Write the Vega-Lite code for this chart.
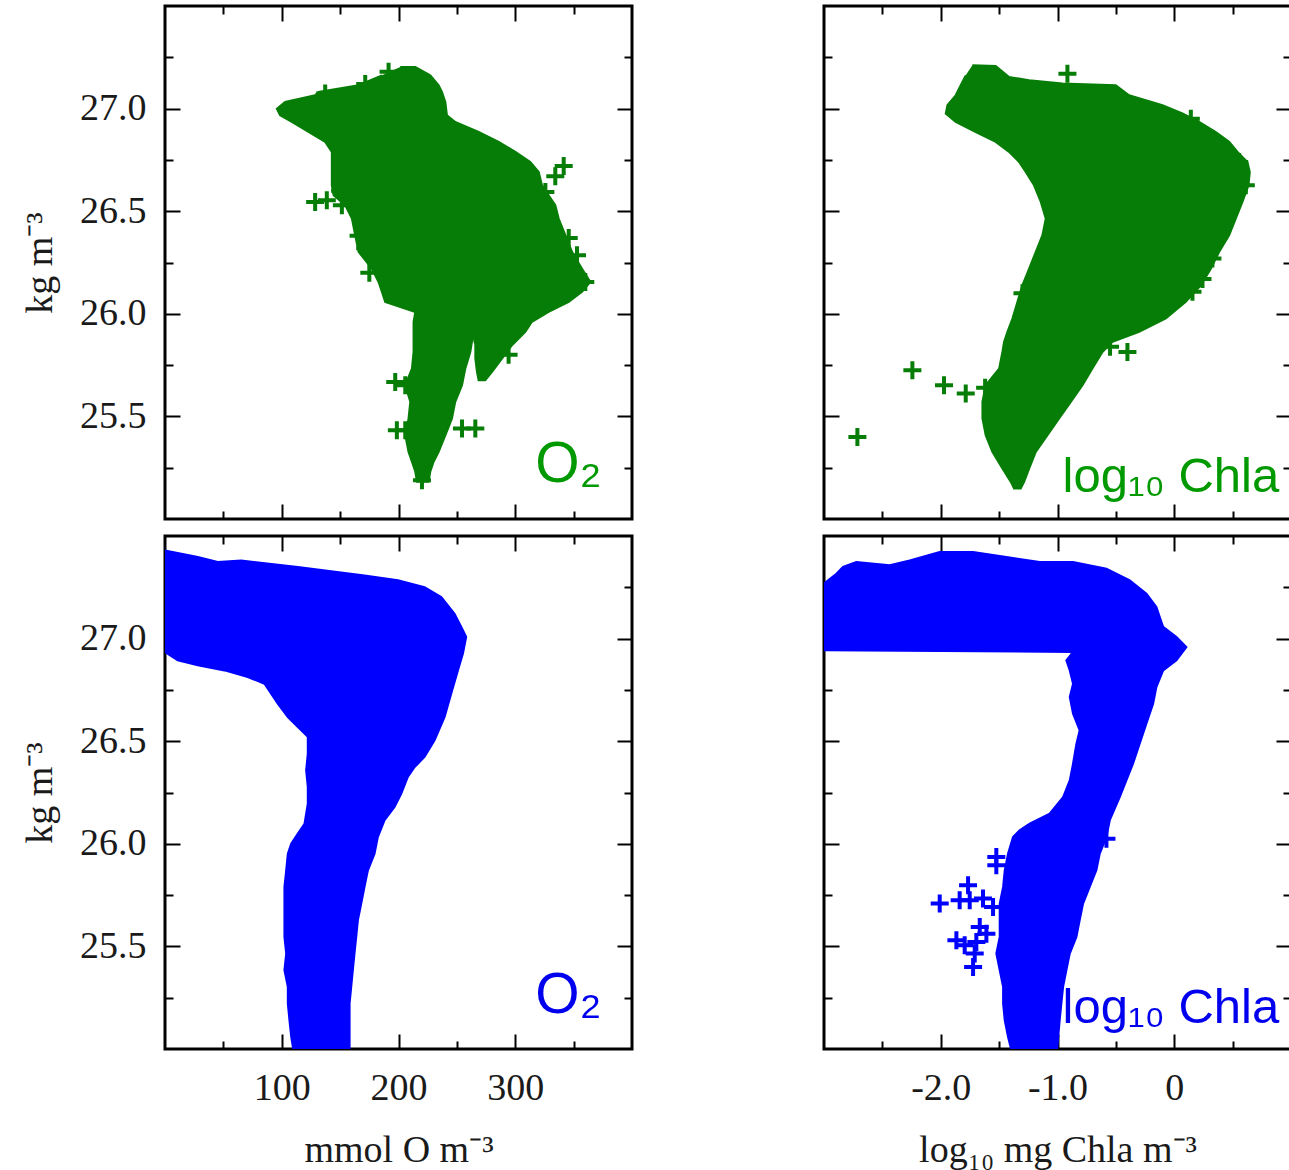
{
  "$schema": "https://vega.github.io/schema/vega-lite/v6.json",
  "background": "white",
  "padding": {"left": 20, "top": 3, "right": 0, "bottom": 0},
  "columns": 2,
  "spacing": {"row": 17, "column": 192},
  "bounds": "flush",
  "config": {
    "view": {"stroke": "#000000", "strokeWidth": 3},
    "axis": {
      "domain": false, "grid": false, "tickColor": "#000000", "tickWidth": 2,
      "labelFont": "Liberation Serif", "labelFontSize": 38, "labelColor": "#1a1a1a",
      "titleFont": "Liberation Serif", "titleFontSize": 38, "titleFontWeight": "normal", "titleColor": "#1a1a1a",
      "labelOverlap": false, "labelFlush": false, "labelBound": false
    }
  },
  "datasets": {
    "tl_poly": [
      {"i":1,"o2":201.5,"sigma":27.203},{"i":2,"o2":214.4,"sigma":27.203},{"i":3,"o2":227.2,"sigma":27.162},{"i":4,"o2":234.4,"sigma":27.114},
      {"i":5,"o2":237.2,"sigma":27.081},{"i":6,"o2":240.1,"sigma":27.032},{"i":7,"o2":241.5,"sigma":26.967},{"i":8,"o2":248.6,"sigma":26.935},
      {"i":9,"o2":268.6,"sigma":26.886},{"i":10,"o2":285.8,"sigma":26.838},{"i":11,"o2":300.1,"sigma":26.789},{"i":12,"o2":312.9,"sigma":26.74},
      {"i":13,"o2":320.1,"sigma":26.691},{"i":14,"o2":322.9,"sigma":26.626},{"i":15,"o2":328.6,"sigma":26.578},{"i":16,"o2":334.3,"sigma":26.529},
      {"i":17,"o2":337.2,"sigma":26.464},{"i":18,"o2":342.9,"sigma":26.383},{"i":19,"o2":348.6,"sigma":26.302},{"i":20,"o2":357.2,"sigma":26.22},
      {"i":21,"o2":364.3,"sigma":26.155},{"i":22,"o2":357.2,"sigma":26.107},{"i":23,"o2":345.8,"sigma":26.058},{"i":24,"o2":328.6,"sigma":26.009},
      {"i":25,"o2":314.3,"sigma":25.961},{"i":26,"o2":308.6,"sigma":25.912},{"i":27,"o2":297.2,"sigma":25.847},{"i":28,"o2":288.6,"sigma":25.782},
      {"i":29,"o2":280.1,"sigma":25.717},{"i":30,"o2":274.3,"sigma":25.676},{"i":31,"o2":268.6,"sigma":25.676},{"i":32,"o2":267.2,"sigma":25.717},
      {"i":33,"o2":265.8,"sigma":25.782},{"i":34,"o2":265.8,"sigma":25.847},{"i":35,"o2":264.4,"sigma":25.904},{"i":36,"o2":262.9,"sigma":25.863},
      {"i":37,"o2":261.5,"sigma":25.814},{"i":38,"o2":257.2,"sigma":25.733},{"i":39,"o2":254.4,"sigma":25.652},{"i":40,"o2":248.6,"sigma":25.571},
      {"i":41,"o2":245.8,"sigma":25.49},{"i":42,"o2":240.1,"sigma":25.408},{"i":43,"o2":234.4,"sigma":25.327},{"i":44,"o2":230.1,"sigma":25.279},
      {"i":45,"o2":227.2,"sigma":25.23},{"i":46,"o2":225.8,"sigma":25.181},{"i":47,"o2":215.8,"sigma":25.181},{"i":48,"o2":214.4,"sigma":25.23},
      {"i":49,"o2":211.5,"sigma":25.279},{"i":50,"o2":208.6,"sigma":25.327},{"i":51,"o2":205.8,"sigma":25.408},{"i":52,"o2":208.6,"sigma":25.49},
      {"i":53,"o2":210.1,"sigma":25.571},{"i":54,"o2":205.8,"sigma":25.652},{"i":55,"o2":211.5,"sigma":25.733},{"i":56,"o2":212.9,"sigma":25.814},
      {"i":57,"o2":212.9,"sigma":25.961},{"i":58,"o2":214.4,"sigma":26.009},{"i":59,"o2":188.6,"sigma":26.058},{"i":60,"o2":185.8,"sigma":26.107},
      {"i":61,"o2":182.9,"sigma":26.155},{"i":62,"o2":177.2,"sigma":26.22},{"i":63,"o2":165.8,"sigma":26.302},{"i":64,"o2":162.9,"sigma":26.383},
      {"i":65,"o2":160.1,"sigma":26.464},{"i":66,"o2":154.4,"sigma":26.529},{"i":67,"o2":144.4,"sigma":26.578},{"i":68,"o2":142.9,"sigma":26.626},
      {"i":69,"o2":142.9,"sigma":26.789},{"i":70,"o2":137.2,"sigma":26.838},{"i":71,"o2":122.9,"sigma":26.886},{"i":72,"o2":108.6,"sigma":26.935},
      {"i":73,"o2":98.6,"sigma":26.967},{"i":74,"o2":95.8,"sigma":26.999},{"i":75,"o2":102.9,"sigma":27.032},{"i":76,"o2":128.6,"sigma":27.065},
      {"i":77,"o2":131.5,"sigma":27.081},{"i":78,"o2":165.8,"sigma":27.114},{"i":79,"o2":185.8,"sigma":27.162}
    ],
    "tl_pts": [
      {"o2":191.5,"sigma":27.18},{"o2":341.5,"sigma":26.72},{"o2":334.3,"sigma":26.67},{"o2":128.6,"sigma":26.545},
      {"o2":138.6,"sigma":26.553},{"o2":151.5,"sigma":26.529},{"o2":165.8,"sigma":26.38},{"o2":171.5,"sigma":26.32},
      {"o2":294.3,"sigma":25.8},{"o2":197.2,"sigma":25.668},{"o2":205.8,"sigma":25.652},{"o2":198.6,"sigma":25.433},
      {"o2":205.8,"sigma":25.433},{"o2":254.4,"sigma":25.441},{"o2":265.8,"sigma":25.441},{"o2":220.1,"sigma":25.189},
      {"o2":171.5,"sigma":27.12},{"o2":137.2,"sigma":27.073},{"o2":345.8,"sigma":26.37},{"o2":352.9,"sigma":26.285},
      {"o2":360.0,"sigma":26.155},{"o2":325.8,"sigma":26.594},{"o2":194.4,"sigma":26.139},{"o2":202.9,"sigma":26.107},
      {"o2":214.4,"sigma":26.074},{"o2":175.0,"sigma":26.2},{"o2":150.0,"sigma":26.6},{"o2":272.0,"sigma":25.87}
    ],
    "tr_poly": [
      {"i":1,"chl":-1.729,"sigma":27.211},{"i":2,"chl":-1.529,"sigma":27.208},{"i":3,"chl":-1.415,"sigma":27.154},{"i":4,"chl":-1.243,"sigma":27.138},
      {"i":5,"chl":-0.958,"sigma":27.122},{"i":6,"chl":-0.501,"sigma":27.114},{"i":7,"chl":-0.387,"sigma":27.065},{"i":8,"chl":-0.101,"sigma":27.016},
      {"i":9,"chl":0.07,"sigma":26.976},{"i":10,"chl":0.213,"sigma":26.935},{"i":11,"chl":0.356,"sigma":26.886},{"i":12,"chl":0.47,"sigma":26.838},
      {"i":13,"chl":0.542,"sigma":26.789},{"i":14,"chl":0.627,"sigma":26.74},{"i":15,"chl":0.647,"sigma":26.691},{"i":16,"chl":0.636,"sigma":26.626},
      {"i":17,"chl":0.584,"sigma":26.545},{"i":18,"chl":0.527,"sigma":26.464},{"i":19,"chl":0.47,"sigma":26.383},{"i":20,"chl":0.385,"sigma":26.302},
      {"i":21,"chl":0.313,"sigma":26.22},{"i":22,"chl":0.227,"sigma":26.139},{"i":23,"chl":0.099,"sigma":26.058},{"i":24,"chl":-0.072,"sigma":25.977},
      {"i":25,"chl":-0.301,"sigma":25.912},{"i":26,"chl":-0.529,"sigma":25.863},{"i":27,"chl":-0.615,"sigma":25.814},{"i":28,"chl":-0.701,"sigma":25.733},
      {"i":29,"chl":-0.786,"sigma":25.652},{"i":30,"chl":-0.886,"sigma":25.571},{"i":31,"chl":-0.986,"sigma":25.49},{"i":32,"chl":-1.086,"sigma":25.408},
      {"i":33,"chl":-1.186,"sigma":25.327},{"i":34,"chl":-1.243,"sigma":25.246},{"i":35,"chl":-1.286,"sigma":25.181},{"i":36,"chl":-1.315,"sigma":25.149},
      {"i":37,"chl":-1.372,"sigma":25.149},{"i":38,"chl":-1.4,"sigma":25.181},{"i":39,"chl":-1.472,"sigma":25.246},{"i":40,"chl":-1.558,"sigma":25.327},
      {"i":41,"chl":-1.615,"sigma":25.408},{"i":42,"chl":-1.643,"sigma":25.49},{"i":43,"chl":-1.643,"sigma":25.571},{"i":44,"chl":-1.615,"sigma":25.652},
      {"i":45,"chl":-1.5,"sigma":25.733},{"i":46,"chl":-1.472,"sigma":25.814},{"i":47,"chl":-1.458,"sigma":25.863},{"i":48,"chl":-1.429,"sigma":25.912},
      {"i":49,"chl":-1.386,"sigma":25.977},{"i":50,"chl":-1.343,"sigma":26.058},{"i":51,"chl":-1.301,"sigma":26.139},{"i":52,"chl":-1.243,"sigma":26.22},
      {"i":53,"chl":-1.186,"sigma":26.302},{"i":54,"chl":-1.129,"sigma":26.383},{"i":55,"chl":-1.101,"sigma":26.464},{"i":56,"chl":-1.143,"sigma":26.545},
      {"i":57,"chl":-1.201,"sigma":26.626},{"i":58,"chl":-1.272,"sigma":26.691},{"i":59,"chl":-1.329,"sigma":26.74},{"i":60,"chl":-1.415,"sigma":26.789},
      {"i":61,"chl":-1.529,"sigma":26.838},{"i":62,"chl":-1.7,"sigma":26.886},{"i":63,"chl":-1.872,"sigma":26.935},{"i":64,"chl":-1.957,"sigma":26.976},
      {"i":65,"chl":-1.943,"sigma":27.016},{"i":66,"chl":-1.872,"sigma":27.065},{"i":67,"chl":-1.829,"sigma":27.114},{"i":68,"chl":-1.786,"sigma":27.162}
    ],
    "tr_pts": [
      {"chl":-0.915,"sigma":27.17},{"chl":-2.243,"sigma":25.725},{"chl":-1.972,"sigma":25.652},{"chl":-1.786,"sigma":25.611},
      {"chl":-2.714,"sigma":25.4},{"chl":-0.401,"sigma":25.814},{"chl":0.142,"sigma":26.95},{"chl":0.556,"sigma":26.74},
      {"chl":0.613,"sigma":26.626},{"chl":0.327,"sigma":26.27},{"chl":0.242,"sigma":26.17},{"chl":0.156,"sigma":26.107},
      {"chl":-0.55,"sigma":25.84},{"chl":-1.62,"sigma":25.64},{"chl":-1.3,"sigma":26.1}
    ],
    "bl_poly": [
      {"i":1,"o2":0,"sigma":27.43},{"i":2,"o2":28.1,"sigma":27.398},{"i":3,"o2":45.2,"sigma":27.373},{"i":4,"o2":65.2,"sigma":27.381},
      {"i":5,"o2":113.8,"sigma":27.349},{"i":6,"o2":170.9,"sigma":27.308},{"i":7,"o2":199.5,"sigma":27.284},{"i":8,"o2":222.3,"sigma":27.251},
      {"i":9,"o2":236.6,"sigma":27.203},{"i":10,"o2":248.0,"sigma":27.121},{"i":11,"o2":253.8,"sigma":27.057},{"i":12,"o2":258.0,"sigma":27.008},
      {"i":13,"o2":255.2,"sigma":26.927},{"i":14,"o2":250.9,"sigma":26.845},{"i":15,"o2":245.2,"sigma":26.732},{"i":16,"o2":239.5,"sigma":26.618},
      {"i":17,"o2":230.9,"sigma":26.504},{"i":18,"o2":222.3,"sigma":26.423},{"i":19,"o2":213.8,"sigma":26.374},{"i":20,"o2":208.0,"sigma":26.326},
      {"i":21,"o2":202.3,"sigma":26.244},{"i":22,"o2":196.6,"sigma":26.18},{"i":23,"o2":188.1,"sigma":26.115},{"i":24,"o2":182.3,"sigma":26.033},
      {"i":25,"o2":179.5,"sigma":25.952},{"i":26,"o2":173.8,"sigma":25.871},{"i":27,"o2":170.9,"sigma":25.79},{"i":28,"o2":168.1,"sigma":25.709},
      {"i":29,"o2":165.2,"sigma":25.627},{"i":30,"o2":163.8,"sigma":25.546},{"i":31,"o2":162.3,"sigma":25.465},{"i":32,"o2":160.9,"sigma":25.384},
      {"i":33,"o2":159.5,"sigma":25.303},{"i":34,"o2":158.1,"sigma":25.221},{"i":35,"o2":158.1,"sigma":25.124},{"i":36,"o2":158.1,"sigma":24.962},
      {"i":37,"o2":110.9,"sigma":24.962},{"i":38,"o2":108.1,"sigma":25.059},{"i":39,"o2":106.6,"sigma":25.14},{"i":40,"o2":105.2,"sigma":25.221},
      {"i":41,"o2":105.2,"sigma":25.303},{"i":42,"o2":102.3,"sigma":25.384},{"i":43,"o2":103.8,"sigma":25.465},{"i":44,"o2":102.3,"sigma":25.546},
      {"i":45,"o2":102.3,"sigma":25.709},{"i":46,"o2":102.3,"sigma":25.79},{"i":47,"o2":103.8,"sigma":25.871},{"i":48,"o2":105.2,"sigma":25.952},
      {"i":49,"o2":108.1,"sigma":26.001},{"i":50,"o2":113.8,"sigma":26.05},{"i":51,"o2":119.5,"sigma":26.098},{"i":52,"o2":122.3,"sigma":26.196},
      {"i":53,"o2":122.3,"sigma":26.277},{"i":54,"o2":120.9,"sigma":26.358},{"i":55,"o2":122.3,"sigma":26.439},{"i":56,"o2":122.3,"sigma":26.521},
      {"i":57,"o2":113.8,"sigma":26.569},{"i":58,"o2":105.2,"sigma":26.618},{"i":59,"o2":96.6,"sigma":26.683},{"i":60,"o2":90.9,"sigma":26.732},
      {"i":61,"o2":85.2,"sigma":26.78},{"i":62,"o2":70.9,"sigma":26.813},{"i":63,"o2":50.9,"sigma":26.845},{"i":64,"o2":28.1,"sigma":26.87},
      {"i":65,"o2":10.9,"sigma":26.894},{"i":66,"o2":0,"sigma":26.935}
    ],
    "br_poly": [
      {"i":1,"chl":-3.0,"sigma":27.268},{"i":2,"chl":-2.894,"sigma":27.316},{"i":3,"chl":-2.837,"sigma":27.349},{"i":4,"chl":-2.723,"sigma":27.373},
      {"i":5,"chl":-2.437,"sigma":27.357},{"i":6,"chl":-2.266,"sigma":27.381},{"i":7,"chl":-2.009,"sigma":27.422},{"i":8,"chl":-1.723,"sigma":27.422},
      {"i":9,"chl":-1.438,"sigma":27.398},{"i":10,"chl":-1.152,"sigma":27.373},{"i":11,"chl":-0.867,"sigma":27.373},{"i":12,"chl":-0.581,"sigma":27.341},
      {"i":13,"chl":-0.381,"sigma":27.284},{"i":14,"chl":-0.238,"sigma":27.219},{"i":15,"chl":-0.153,"sigma":27.154},{"i":16,"chl":-0.124,"sigma":27.105},
      {"i":17,"chl":-0.095,"sigma":27.057},{"i":18,"chl":0.019,"sigma":27.008},{"i":19,"chl":0.104,"sigma":26.959},{"i":20,"chl":0.019,"sigma":26.894},
      {"i":21,"chl":-0.095,"sigma":26.845},{"i":22,"chl":-0.153,"sigma":26.764},{"i":23,"chl":-0.181,"sigma":26.683},{"i":24,"chl":-0.238,"sigma":26.586},
      {"i":25,"chl":-0.296,"sigma":26.488},{"i":26,"chl":-0.353,"sigma":26.391},{"i":27,"chl":-0.41,"sigma":26.309},{"i":28,"chl":-0.467,"sigma":26.228},
      {"i":29,"chl":-0.552,"sigma":26.115},{"i":30,"chl":-0.581,"sigma":26.033},{"i":31,"chl":-0.638,"sigma":25.952},{"i":32,"chl":-0.667,"sigma":25.871},
      {"i":33,"chl":-0.724,"sigma":25.79},{"i":34,"chl":-0.781,"sigma":25.709},{"i":35,"chl":-0.81,"sigma":25.627},{"i":36,"chl":-0.838,"sigma":25.546},
      {"i":37,"chl":-0.895,"sigma":25.465},{"i":38,"chl":-0.924,"sigma":25.384},{"i":39,"chl":-0.952,"sigma":25.303},{"i":40,"chl":-0.967,"sigma":25.221},
      {"i":41,"chl":-0.981,"sigma":25.14},{"i":42,"chl":-1.009,"sigma":24.962},{"i":43,"chl":-1.381,"sigma":24.962},{"i":44,"chl":-1.424,"sigma":25.059},
      {"i":45,"chl":-1.452,"sigma":25.14},{"i":46,"chl":-1.466,"sigma":25.221},{"i":47,"chl":-1.466,"sigma":25.303},{"i":48,"chl":-1.495,"sigma":25.384},
      {"i":49,"chl":-1.524,"sigma":25.465},{"i":50,"chl":-1.495,"sigma":25.546},{"i":51,"chl":-1.495,"sigma":25.627},{"i":52,"chl":-1.495,"sigma":25.709},
      {"i":53,"chl":-1.466,"sigma":25.79},{"i":54,"chl":-1.452,"sigma":25.871},{"i":55,"chl":-1.424,"sigma":25.952},{"i":56,"chl":-1.381,"sigma":26.033},
      {"i":57,"chl":-1.324,"sigma":26.066},{"i":58,"chl":-1.238,"sigma":26.098},{"i":59,"chl":-1.067,"sigma":26.147},{"i":60,"chl":-0.952,"sigma":26.228},
      {"i":61,"chl":-0.895,"sigma":26.309},{"i":62,"chl":-0.867,"sigma":26.391},{"i":63,"chl":-0.838,"sigma":26.488},{"i":64,"chl":-0.81,"sigma":26.553},
      {"i":65,"chl":-0.867,"sigma":26.634},{"i":66,"chl":-0.895,"sigma":26.715},{"i":67,"chl":-0.867,"sigma":26.78},{"i":68,"chl":-0.895,"sigma":26.845},
      {"i":69,"chl":-0.924,"sigma":26.894},{"i":70,"chl":-0.867,"sigma":26.935},{"i":71,"chl":-3.0,"sigma":26.943}
    ],
    "br_pts": [
      {"chl":-1.524,"sigma":25.936},{"chl":-1.524,"sigma":25.895},{"chl":-1.766,"sigma":25.798},{"chl":-2.009,"sigma":25.709},
      {"chl":-1.838,"sigma":25.725},{"chl":-1.752,"sigma":25.725},{"chl":-1.638,"sigma":25.733},{"chl":-1.552,"sigma":25.692},
      {"chl":-1.666,"sigma":25.595},{"chl":-1.609,"sigma":25.562},{"chl":-1.866,"sigma":25.53},{"chl":-1.795,"sigma":25.506},
      {"chl":-1.695,"sigma":25.522},{"chl":-1.709,"sigma":25.465},{"chl":-1.723,"sigma":25.4},{"chl":-0.581,"sigma":26.025}
    ]
  },
  "concat": [
    {
      "width": 467, "height": 513,
      "layer": [
        {
          "data": {"name": "tl_poly"},
          "mark": {"type": "line", "filled": true, "fill": "#067d06", "stroke": "#067d06", "strokeWidth": 2, "clip": true},
          "encoding": {
            "x": {"field": "o2", "type": "quantitative", "scale": {"domain": [0, 400], "nice": false, "zero": false},
              "axis": {"orient": "bottom", "values": [50,100,150,200,250,300,350], "tickSize": {"condition": {"test": "datum.value % 100 === 0", "value": -15}, "value": -8}, "labels": false, "title": null}},
            "y": {"field": "sigma", "type": "quantitative", "scale": {"domain": [25, 27.5], "nice": false, "zero": false},
              "axis": {"orient": "left", "values": [25.25,25.5,25.75,26,26.25,26.5,26.75,27,27.25], "tickSize": {"condition": {"test": "datum.value % 0.5 === 0", "value": -15}, "value": -8},
                "labelExpr": "(datum.value % 0.5 === 0) ? format(datum.value, '.1f') : ''", "labelPadding": 34, "title": "kg m⁻³", "titlePadding": 20}},
            "order": {"field": "i", "type": "quantitative"}
          }
        },
        {
          "data": {"name": "tl_pts"},
          "mark": {"type": "point", "shape": "M-1,0H1M0,-1V1", "filled": false, "stroke": "#067d06", "strokeWidth": 4, "size": 324, "opacity": 1, "clip": true},
          "encoding": {
            "x": {"field": "o2", "type": "quantitative", "scale": {"domain": [0, 400], "nice": false, "zero": false}, "axis": null},
            "y": {"field": "sigma", "type": "quantitative", "scale": {"domain": [25, 27.5], "nice": false, "zero": false}, "axis": null}
          }
        },
        {
          "data": {"values": [{"o2": 374, "sigma": 25.18, "t": "O₂"}]},
          "mark": {"type": "text", "align": "right", "baseline": "alphabetic", "font": "Liberation Sans", "fontSize": 57, "color": "#009900"},
          "encoding": {
            "x": {"field": "o2", "type": "quantitative", "scale": {"domain": [0, 400], "nice": false, "zero": false},
              "axis": {"orient": "top", "values": [50,100,150,200,250,300,350], "tickSize": {"condition": {"test": "datum.value % 100 === 0", "value": -15}, "value": -8}, "labels": false, "title": null}},
            "y": {"field": "sigma", "type": "quantitative", "scale": {"domain": [25, 27.5], "nice": false, "zero": false},
              "axis": {"orient": "right", "values": [25.25,25.5,25.75,26,26.25,26.5,26.75,27,27.25], "tickSize": {"condition": {"test": "datum.value % 0.5 === 0", "value": -15}, "value": -8}, "labels": false, "title": null}},
            "text": {"field": "t"}
          }
        }
      ],
      "resolve": {"axis": {"x": "independent", "y": "independent"}}
    },
    {
      "width": 467, "height": 513,
      "layer": [
        {
          "data": {"name": "tr_poly"},
          "mark": {"type": "line", "filled": true, "fill": "#067d06", "stroke": "#067d06", "strokeWidth": 2, "clip": true},
          "encoding": {
            "x": {"field": "chl", "type": "quantitative", "scale": {"domain": [-3, 1], "nice": false, "zero": false},
              "axis": {"orient": "bottom", "values": [-2.5,-2,-1.5,-1,-0.5,0,0.5], "tickSize": {"condition": {"test": "datum.value % 1 === 0", "value": -15}, "value": -8}, "labels": false, "title": null}},
            "y": {"field": "sigma", "type": "quantitative", "scale": {"domain": [25, 27.5], "nice": false, "zero": false},
              "axis": {"orient": "left", "values": [25.25,25.5,25.75,26,26.25,26.5,26.75,27,27.25], "tickSize": {"condition": {"test": "datum.value % 0.5 === 0", "value": -15}, "value": -8}, "labels": false, "title": null}},
            "order": {"field": "i", "type": "quantitative"}
          }
        },
        {
          "data": {"name": "tr_pts"},
          "mark": {"type": "point", "shape": "M-1,0H1M0,-1V1", "filled": false, "stroke": "#067d06", "strokeWidth": 4, "size": 324, "opacity": 1, "clip": true},
          "encoding": {
            "x": {"field": "chl", "type": "quantitative", "scale": {"domain": [-3, 1], "nice": false, "zero": false}, "axis": null},
            "y": {"field": "sigma", "type": "quantitative", "scale": {"domain": [25, 27.5], "nice": false, "zero": false}, "axis": null}
          }
        },
        {
          "data": {"values": [{"chl": 0.899, "sigma": 25.132, "t": "log₁₀ Chla"}]},
          "mark": {"type": "text", "align": "right", "baseline": "alphabetic", "font": "Liberation Sans", "fontSize": 49, "color": "#009900"},
          "encoding": {
            "x": {"field": "chl", "type": "quantitative", "scale": {"domain": [-3, 1], "nice": false, "zero": false},
              "axis": {"orient": "top", "values": [-2.5,-2,-1.5,-1,-0.5,0,0.5], "tickSize": {"condition": {"test": "datum.value % 1 === 0", "value": -15}, "value": -8}, "labels": false, "title": null}},
            "y": {"field": "sigma", "type": "quantitative", "scale": {"domain": [25, 27.5], "nice": false, "zero": false},
              "axis": {"orient": "right", "values": [25.25,25.5,25.75,26,26.25,26.5,26.75,27,27.25], "tickSize": {"condition": {"test": "datum.value % 0.5 === 0", "value": -15}, "value": -8}, "labels": false, "title": null}},
            "text": {"field": "t"}
          }
        }
      ],
      "resolve": {"axis": {"x": "independent", "y": "independent"}}
    },
    {
      "width": 467, "height": 513,
      "layer": [
        {
          "data": {"name": "bl_poly"},
          "mark": {"type": "line", "filled": true, "fill": "#0000ff", "stroke": "#0000ff", "strokeWidth": 2, "clip": true},
          "encoding": {
            "x": {"field": "o2", "type": "quantitative", "scale": {"domain": [0, 400], "nice": false, "zero": false},
              "axis": {"orient": "bottom", "values": [50,100,150,200,250,300,350], "tickSize": {"condition": {"test": "datum.value % 100 === 0", "value": -15}, "value": -8},
                "labelExpr": "(datum.value % 100 === 0) ? format(datum.value, 'd') : ''", "labelPadding": 35, "title": "mmol O m⁻³", "titlePadding": 17}},
            "y": {"field": "sigma", "type": "quantitative", "scale": {"domain": [25, 27.5], "nice": false, "zero": false},
              "axis": {"orient": "left", "values": [25.25,25.5,25.75,26,26.25,26.5,26.75,27,27.25], "tickSize": {"condition": {"test": "datum.value % 0.5 === 0", "value": -15}, "value": -8},
                "labelExpr": "(datum.value % 0.5 === 0) ? format(datum.value, '.1f') : ''", "labelPadding": 34, "title": "kg m⁻³", "titlePadding": 20}},
            "order": {"field": "i", "type": "quantitative"}
          }
        },
        {
          "data": {"values": [{"o2": 374, "sigma": 25.175, "t": "O₂"}]},
          "mark": {"type": "text", "align": "right", "baseline": "alphabetic", "font": "Liberation Sans", "fontSize": 57, "color": "#0000ee"},
          "encoding": {
            "x": {"field": "o2", "type": "quantitative", "scale": {"domain": [0, 400], "nice": false, "zero": false},
              "axis": {"orient": "top", "values": [50,100,150,200,250,300,350], "tickSize": {"condition": {"test": "datum.value % 100 === 0", "value": -15}, "value": -8}, "labels": false, "title": null}},
            "y": {"field": "sigma", "type": "quantitative", "scale": {"domain": [25, 27.5], "nice": false, "zero": false},
              "axis": {"orient": "right", "values": [25.25,25.5,25.75,26,26.25,26.5,26.75,27,27.25], "tickSize": {"condition": {"test": "datum.value % 0.5 === 0", "value": -15}, "value": -8}, "labels": false, "title": null}},
            "text": {"field": "t"}
          }
        }
      ],
      "resolve": {"axis": {"x": "independent", "y": "independent"}}
    },
    {
      "width": 467, "height": 513,
      "layer": [
        {
          "data": {"name": "br_poly"},
          "mark": {"type": "line", "filled": true, "fill": "#0000ff", "stroke": "#0000ff", "strokeWidth": 2, "clip": true},
          "encoding": {
            "x": {"field": "chl", "type": "quantitative", "scale": {"domain": [-3, 1], "nice": false, "zero": false},
              "axis": {"orient": "bottom", "values": [-2.5,-2,-1.5,-1,-0.5,0,0.5], "tickSize": {"condition": {"test": "datum.value % 1 === 0", "value": -15}, "value": -8},
                "labelExpr": "datum.value === 0 ? '0' : ((datum.value % 1 === 0) ? '-' + format(abs(datum.value), '.1f') : '')", "labelPadding": 35, "title": "log₁₀ mg Chla m⁻³", "titlePadding": 17}},
            "y": {"field": "sigma", "type": "quantitative", "scale": {"domain": [25, 27.5], "nice": false, "zero": false},
              "axis": {"orient": "left", "values": [25.25,25.5,25.75,26,26.25,26.5,26.75,27,27.25], "tickSize": {"condition": {"test": "datum.value % 0.5 === 0", "value": -15}, "value": -8}, "labels": false, "title": null}},
            "order": {"field": "i", "type": "quantitative"}
          }
        },
        {
          "data": {"name": "br_pts"},
          "mark": {"type": "point", "shape": "M-1,0H1M0,-1V1", "filled": false, "stroke": "#0000ff", "strokeWidth": 4, "size": 324, "opacity": 1, "clip": true},
          "encoding": {
            "x": {"field": "chl", "type": "quantitative", "scale": {"domain": [-3, 1], "nice": false, "zero": false}, "axis": null},
            "y": {"field": "sigma", "type": "quantitative", "scale": {"domain": [25, 27.5], "nice": false, "zero": false}, "axis": null}
          }
        },
        {
          "data": {"values": [{"chl": 0.899, "sigma": 25.127, "t": "log₁₀ Chla"}]},
          "mark": {"type": "text", "align": "right", "baseline": "alphabetic", "font": "Liberation Sans", "fontSize": 49, "color": "#0000ee"},
          "encoding": {
            "x": {"field": "chl", "type": "quantitative", "scale": {"domain": [-3, 1], "nice": false, "zero": false},
              "axis": {"orient": "top", "values": [-2.5,-2,-1.5,-1,-0.5,0,0.5], "tickSize": {"condition": {"test": "datum.value % 1 === 0", "value": -15}, "value": -8}, "labels": false, "title": null}},
            "y": {"field": "sigma", "type": "quantitative", "scale": {"domain": [25, 27.5], "nice": false, "zero": false},
              "axis": {"orient": "right", "values": [25.25,25.5,25.75,26,26.25,26.5,26.75,27,27.25], "tickSize": {"condition": {"test": "datum.value % 0.5 === 0", "value": -15}, "value": -8}, "labels": false, "title": null}},
            "text": {"field": "t"}
          }
        }
      ],
      "resolve": {"axis": {"x": "independent", "y": "independent"}}
    }
  ]
}
